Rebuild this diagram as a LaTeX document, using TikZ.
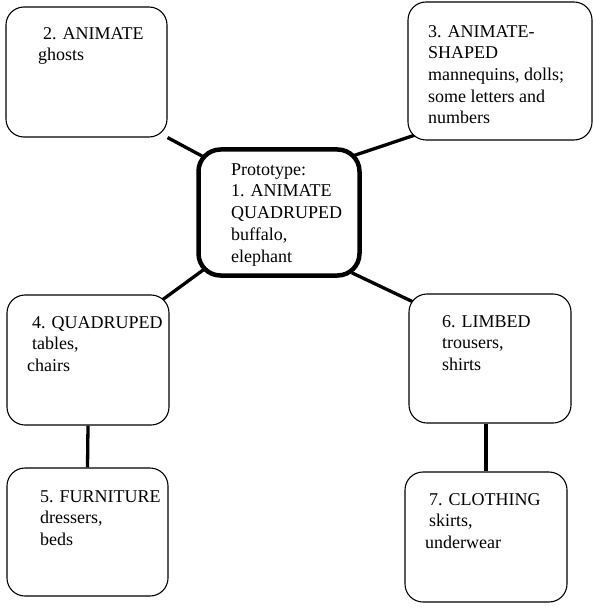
\documentclass[tikz,border=0pt]{standalone}
\usepackage{fontspec}
\setmainfont{Liberation Serif}
\usetikzlibrary{calc,backgrounds}
\begin{document}
\begin{tikzpicture}[x=1bp,y=-1bp,
  box/.style={draw, line width=1.1bp, rounded corners=18bp, fill=white, inner sep=0pt},
  protobox/.style={draw, line width=4.5bp, rounded corners=22bp, fill=white, inner sep=0pt},
  txt/.style={anchor=base west, align=left, inner sep=0pt, font=\fontsize{18bp}{21.7bp}\selectfont},
  link/.style={line width=3.3bp}]
\useasboundingbox (0,0) rectangle (594,607);
% boxes
\node[box, minimum width=161bp, minimum height=130bp] (b2) at (86.5,72) {};
\node[box, minimum width=184bp, minimum height=138bp] (b3) at (500,71) {};
\node[protobox, minimum width=161bp, minimum height=126bp] (c) at (279,212.5) {};
\node[box, minimum width=162bp, minimum height=130bp] (b4) at (88,360) {};
\node[box, minimum width=161bp, minimum height=128bp] (b5) at (87.5,532) {};
\node[box, minimum width=162bp, minimum height=129bp] (b6) at (490,358.5) {};
\node[box, minimum width=162bp, minimum height=130bp] (b7) at (486,537) {};
% texts (anchored at the baseline of the last line)
\node[txt] (t2) at (38,61) {\hspace*{5bp}2. ANIMATE\\ghosts};
\node[txt] (t3) at (428,124) {3. ANIMATE-\\SHAPED\\mannequins, dolls;\\some letters and\\numbers};
\node[txt] (tc) at (231,262) {Prototype:\\1. ANIMATE\\QUADRUPED\\buffalo,\\elephant};
\node[txt] (t4) at (27,371.5) {\hspace*{5bp}4. QUADRUPED\\\hspace*{5bp}tables,\\chairs};
\node[txt] (t5) at (40,545.5) {5. FURNITURE\\dressers,\\beds};
\node[txt] (t6) at (442,370.5) {6. LIMBED\\trousers,\\shirts};
\node[txt] (t7) at (425,548.5) {\hspace*{4bp}7. CLOTHING\\\hspace*{4bp}skirts,\\underwear};
% connectors
\begin{pgfonlayer}{background}
\fill[white] (0,0) rectangle (594,607);
\draw[link] (b2.south east) -- ($(c.north west)+(8,10)$);
\draw[link] ($(c.north east)+(-10,9)$) -- ($(b3.south west)+(12,-7)$);
\draw[link] ($(c.south west)+(10,-10)$) -- ($(b4.north east)+(-8,6)$);
\draw[link] ($(c.south east)+(-10,-5)$) -- ($(b6.north west)+(10,11)$);
\draw[link] (b4.south) -- (b5.north);
\draw[link] (b7.north |- b6.south) -- (b7.north);
\end{pgfonlayer}
\end{tikzpicture}
\end{document}
